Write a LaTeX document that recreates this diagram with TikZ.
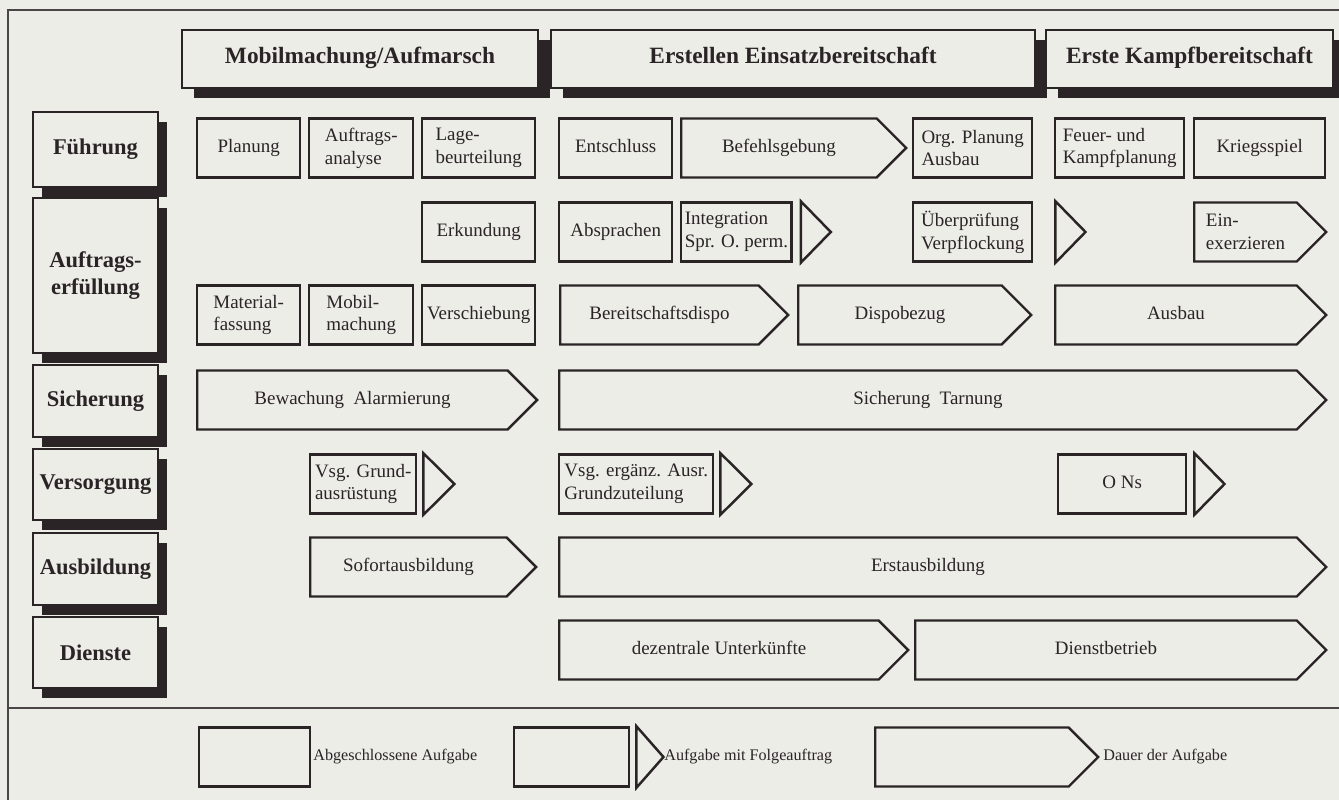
\documentclass[tikz,border=0pt]{standalone}
\usepackage{fontspec}
\setmainfont{Liberation Serif}
\usetikzlibrary{shapes.symbols,shadows,calc}

\definecolor{paper}{RGB}{237,237,231}
\definecolor{ink}{RGB}{42,36,38}

\tikzset{
    box/.style={draw=ink, line width=1.4pt, fill=paper, text=ink, inner sep=2pt, minimum height=1.18cm},
    w/.style={minimum width=#1*0.02cm},
    one/.style={text height=0.7em, text depth=0.22em},
    done/.style={box, rectangle, anchor=west, align=left, font=\fontsize{10.8}{13}\selectfont},
    duration/.style={box, signal, signal to=east, signal from=nowhere, signal pointer angle=90, anchor=west, align=left, font=\fontsize{10.8}{13}\selectfont},
    follow/.style={draw=ink, line width=1.4pt, fill=paper, line join=miter},
    phase/.style={box, one, minimum height=1.16cm, font=\fontsize{13.3}{16}\bfseries, drop shadow={fill=ink, opacity=1, shadow xshift=0.24cm, shadow yshift=-0.2cm}},
    area/.style={box, minimum width=2.5cm, align=center, font=\fontsize{12.8}{15}\bfseries, drop shadow={fill=ink, opacity=1, shadow xshift=0.18cm, shadow yshift=-0.2cm}},
    legend/.style={text=ink, anchor=west, inner sep=0pt, font=\fontsize{9.2}{11}\selectfont},
    frame/.style={draw=ink!85, line width=0.8pt}
}

\begin{document}
\begin{tikzpicture}[x=0.02cm, y=-0.02cm]
    \useasboundingbox[fill=paper] (0,0) rectangle (1339,800);

    % frame
    \coordinate (frameTL) at (8,10);
    \coordinate (frameTR) at (1339,10);
    \coordinate (frameBL) at (8,800);
    \coordinate (sepL) at (8,708);
    \coordinate (sepR) at (1339,708);
    \draw[frame] (frameTR) -- (frameTL) -- (frameBL);
    \draw[frame] (sepL) -- (sepR);

    % phases
    \node[phase, w=356] (mobPhase) at (360,59) {Mobilmachung/Aufmarsch};
    \node[phase, w=484] (einsatzPhase) at (793,59) {Erstellen Einsatzbereitschaft};
    \node[phase, w=287] (kampfPhase) at (1189.5,59) {Erste Kampfbereitschaft};

    % areas
    \node[area, minimum height=75*0.02cm] (fuehrung) at (95.5,149.5) {F\"uhrung};
    \node[area, minimum height=155*0.02cm] (auftrag) at (95.5,275.5) {Auftrags-\\erf\"ullung};
    \node[area, minimum height=72*0.02cm] (sicherung) at (95.5,401) {Sicherung};
    \node[area, minimum height=71*0.02cm] (versorgung) at (95.5,484.5) {Versorgung};
    \node[area, minimum height=72*0.02cm] (ausbildung) at (95.5,569) {Ausbildung};
    \node[area, minimum height=71*0.02cm] (dienste) at (95.5,652.5) {Dienste};

    % row 1
    \node[done, one, w=103] (planung) at (196,148) {Planung};
    \node[done, w=104] (auftrAnalyse) at (308,148) {Auftrags-\\analyse};
    \node[done, w=113] (lageBeurt) at (421,148) {Lage-\\beurteilung};
    \node[done, one, w=113] (entschluss) at (558,148) {Entschluss};
    \node[duration, one, w=225] (befehl) at (680,148) {Befehlsgebung};
    \node[done, w=119] (orgPlanung) at (912,148) {Org. Planung\\Ausbau};
    \node[done, w=129] (feuerPlanung) at (1054,148) {Feuer- und\\Kampfplanung};
    \node[done, one, w=131] (kriegsspiel) at (1193,148) {Kriegsspiel};

    % row 2
    \node[done, one, w=113] (erkundung) at (421,232) {Erkundung};
    \node[done, one, w=113] (absprachen) at (558,232) {Absprachen};
    \node[done, w=107] (integration) at (680,232) {Integration\\Spr. O. perm.};
    \node[done, w=119] (ueberpruefung) at (912,232) {\"Uberpr\"ufung\\Verpflockung};
    \node[duration, w=132] (einexerzieren) at (1193,232) {Ein-\\exerzieren};

    % row 3
    \node[done, w=103] (materialFassung) at (196,315) {Material-\\fassung};
    \node[done, w=104] (mobilmachung) at (308,315) {Mobil-\\machung};
    \node[done, one, w=113] (verschiebung) at (421,315) {Verschiebung};
    \node[duration, one, w=228] (bereitDispo) at (559,315) {Bereitschaftsdispo};
    \node[duration, one, w=233] (dispobezug) at (797,315) {Dispobezug};
    \node[duration, one, w=271] (ausbau) at (1054,315) {Ausbau};

    % row 4
    \node[duration, one, w=340] (bewachung) at (196,400) {Bewachung\ \ Alarmierung};
    \node[duration, one, w=767] (sichTarnung) at (558,400) {Sicherung\ \ Tarnung};

    % row 5
    \node[done, w=106] (vsgGrund) at (309,484) {Vsg. Grund-\\ausr\"ustung};
    \node[done, w=154] (vsgErgaenz) at (558,484) {Vsg. erg\"anz. Ausr.\\Grundzuteilung};
    \node[done, one, w=128] (oNs) at (1057,484) {O Ns};

    % row 6
    \node[duration, one, w=226] (sofortAusb) at (309,567) {Sofortausbildung};
    \node[duration, one, w=767] (erstAusb) at (558,567) {Erstausbildung};

    % row 7
    \node[duration, one, w=349] (dezentral) at (558,650) {dezentrale Unterk\"unfte};
    \node[duration, one, w=411] (dienstbetrieb) at (914,650) {Dienstbetrieb};

    % follow-up marks
    \draw[follow] ($(integration.north east)+(8,0)$) -- ($(integration.east)+(38,0)$) -- ($(integration.south east)+(8,0)$) -- cycle;
    \draw[follow] ($(ueberpruefung.north east)+(22,0)$) -- ($(ueberpruefung.east)+(52,0)$) -- ($(ueberpruefung.south east)+(22,0)$) -- cycle;
    \draw[follow] ($(vsgGrund.north east)+(6,0)$) -- ($(vsgGrund.east)+(37,0)$) -- ($(vsgGrund.south east)+(6,0)$) -- cycle;
    \draw[follow] ($(vsgErgaenz.north east)+(6,0)$) -- ($(vsgErgaenz.east)+(37,0)$) -- ($(vsgErgaenz.south east)+(6,0)$) -- cycle;
    \draw[follow] ($(oNs.north east)+(7,0)$) -- ($(oNs.east)+(37,0)$) -- ($(oNs.south east)+(7,0)$) -- cycle;

    % legend
    \node[done, w=111] (legDone) at (198,757) {};
    \node[legend] (legDoneText) at (313,757) {Abgeschlossene Aufgabe};
    \node[done, w=115] (legFollow) at (513,757) {};
    \draw[follow] ($(legFollow.north east)+(6,0)$) -- ($(legFollow.east)+(33,0)$) -- ($(legFollow.south east)+(6,0)$) -- cycle;
    \node[legend] (legFollowText) at (664,757) {Aufgabe mit Folgeauftrag};
    \node[duration, w=223] (legDuration) at (874,757) {};
    \node[legend] (legDurationText) at (1103,757) {Dauer der Aufgabe};
\end{tikzpicture}
\end{document}
